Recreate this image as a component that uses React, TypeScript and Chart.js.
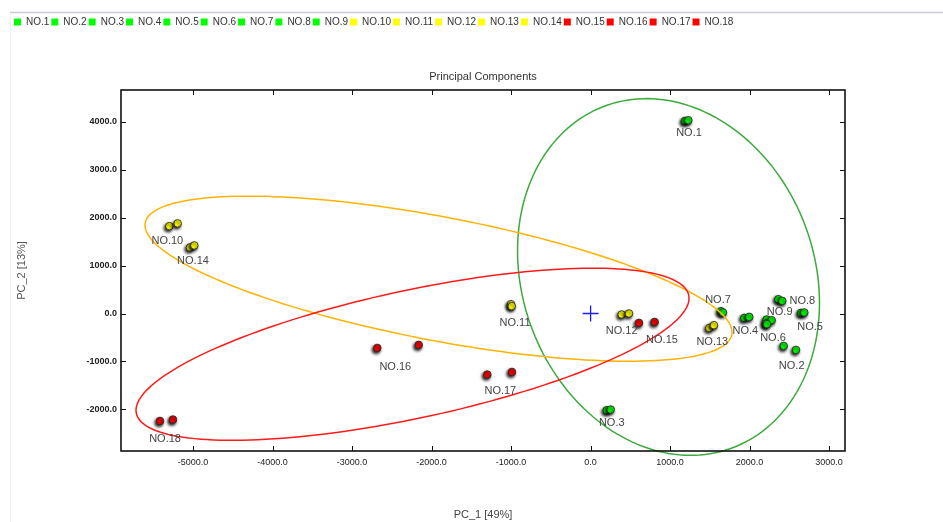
import React, { useEffect, useRef } from 'react';
import { Chart, registerables } from 'chart.js';

Chart.register(...registerables);

// ---------- data ----------
const sampleNames = ['NO.1', 'NO.2', 'NO.3', 'NO.4', 'NO.5', 'NO.6', 'NO.7', 'NO.8', 'NO.9',
  'NO.10', 'NO.11', 'NO.12', 'NO.13', 'NO.14', 'NO.15', 'NO.16', 'NO.17', 'NO.18'];
const sampleGroup = ['G', 'G', 'G', 'G', 'G', 'G', 'G', 'G', 'G',
  'Y', 'Y', 'Y', 'Y', 'Y', 'R', 'R', 'R', 'R'];

// replicate 1 and replicate 2 scores
const pc1Rep1 = [1187, 2429, 203, 1933, 2647, 2206, 1640, 2361, 2215,
  -5299, -1001, 391, 1493, -5039, 609, -2683, -1299, -5416];
const pc2Rep1 = [4020, -677, -2021, -92, 13, -209, 48, 299, -125,
  1824, 194, -21, -301, 1379, -196, -719, -1275, -2244];
const pc1Rep2 = [1229, 2584, 253, 1996, 2688, 2219, 1665, 2411, 2278,
  -5194, -992, 483, 1552, -4985, 806, -2162, -989, -5253];
const pc2Rep2 = [4035, -761, -2006, -71, 21, -224, 21, 263, -140,
  1881, 153, 0, -245, 1421, -176, -656, -1220, -2215];

// origin marker
const originX = 0;
const originY = 0;

// confidence ellipses (data units)
const ellipseCenterX = [980, -1913, -2240];
const ellipseCenterY = [763, 727, -851];
const ellipseSpreadX = [1899, 3692, 3478];
const ellipseSpreadY = [3724, 1724, 1797];
const ellipseCorr = [-0.146, -0.648, 0.651];

// axes
const xMin = -5907;
const xMax = 3200;
const yMin = -2871;
const yMax = 4667;
const xTickValues = [-5000, -4000, -3000, -2000, -1000, 0, 1000, 2000, 3000];
const yTickValues = [-2000, -1000, 0, 1000, 2000, 3000, 4000];

// ---------- styles ----------
const groupFill: Record<string, string> = { G: '#00ff00', Y: '#ffff00', R: '#ff0000' };
const ellipseColors = ['#3caa3c', '#ffb300', '#ff1a1a'];
// label placement offsets in pixels relative to the first replicate
const labelOffsets: [number, number][] = [
  [4, 12], [8, 20], [5, 13], [1, 13], [9, 14], [7, 14], [-3, -11], [24, 2], [13, -8],
  [-2, 15], [4, 19], [0, 16], [3, 14], [3, 14], [23, 17], [18, 19], [13, 16], [5, 18],
];
const FONT = "'Liberation Sans', Arial, sans-serif";

const pagePlugin = {
  id: 'pageFrame',
  beforeDraw(chart: any) {
    const ctx = chart.ctx;
    ctx.save();
    ctx.fillStyle = '#ffffff';
    ctx.fillRect(0, 0, chart.width, chart.height);
    ctx.strokeStyle = '#eef1f4';
    ctx.lineWidth = 1;
    ctx.beginPath();
    ctx.moveTo(10.5, 12);
    ctx.lineTo(10.5, chart.height);
    ctx.stroke();
    ctx.strokeStyle = '#c9ccd2';
    ctx.lineWidth = 1.5;
    ctx.beginPath();
    ctx.moveTo(10, 12.5);
    ctx.lineTo(chart.width, 12.5);
    ctx.stroke();
    ctx.restore();
  },
};

const shadowPlugin = {
  id: 'pointShadow',
  beforeDatasetDraw(chart: any, args: any) {
    if (args.index >= sampleNames.length) return;
    const ctx = chart.ctx;
    ctx.shadowColor = 'rgba(0,0,0,0.9)';
    ctx.shadowBlur = 3;
    ctx.shadowOffsetX = -1.2;
    ctx.shadowOffsetY = 1.8;
  },
  afterDatasetDraw(chart: any) {
    const ctx = chart.ctx;
    ctx.shadowColor = 'rgba(0,0,0,0)';
    ctx.shadowBlur = 0;
    ctx.shadowOffsetX = 0;
    ctx.shadowOffsetY = 0;
  },
};

const overlayPlugin = {
  id: 'overlay',
  afterDatasetsDraw(chart: any) {
    const ctx = chart.ctx;
    const xs = chart.scales.x;
    const ys = chart.scales.y;
    ctx.save();
    for (let e = 0; e < ellipseCenterX.length; e++) {
      const r = ellipseCorr[e];
      const q = Math.sqrt(1 - r * r);
      ctx.beginPath();
      const steps = 180;
      for (let i = 0; i <= steps; i++) {
        const t = (i / steps) * Math.PI * 2;
        const dx = ellipseSpreadX[e] * Math.cos(t);
        const dy = ellipseSpreadY[e] * (r * Math.cos(t) + q * Math.sin(t));
        const px = xs.getPixelForValue(ellipseCenterX[e] + dx);
        const py = ys.getPixelForValue(ellipseCenterY[e] + dy);
        if (i === 0) ctx.moveTo(px, py); else ctx.lineTo(px, py);
      }
      ctx.closePath();
      ctx.strokeStyle = ellipseColors[e];
      ctx.lineWidth = 1.5;
      ctx.stroke();
    }
    ctx.font = `11px ${FONT}`;
    ctx.fillStyle = '#444444';
    ctx.textAlign = 'center';
    ctx.textBaseline = 'middle';
    sampleNames.forEach((name, i) => {
      const px = xs.getPixelForValue(pc1Rep1[i]) + labelOffsets[i][0];
      const py = ys.getPixelForValue(pc2Rep1[i]) + labelOffsets[i][1];
      ctx.fillText(name, px, py);
    });
    ctx.restore();
  },
  afterDraw(chart: any) {
    const ctx = chart.ctx;
    const a = chart.chartArea;
    const xs = chart.scales.x;
    const ys = chart.scales.y;
    ctx.save();
    ctx.strokeStyle = '#111111';
    ctx.lineWidth = 1;
    const tl = 5;
    ctx.beginPath();
    xTickValues.forEach((v) => {
      const px = Math.round(xs.getPixelForValue(v)) + 0.5;
      ctx.moveTo(px, a.bottom); ctx.lineTo(px, a.bottom - tl);
      ctx.moveTo(px, a.top); ctx.lineTo(px, a.top + tl);
    });
    yTickValues.forEach((v) => {
      const py = Math.round(ys.getPixelForValue(v)) + 0.5;
      ctx.moveTo(a.left, py); ctx.lineTo(a.left + tl, py);
      ctx.moveTo(a.right, py); ctx.lineTo(a.right - tl, py);
    });
    ctx.stroke();
    ctx.lineWidth = 1.6;
    ctx.strokeRect(a.left, a.top, a.right - a.left, a.bottom - a.top);
    ctx.restore();
  },
};

export default function App() {
  const canvasRef = useRef<HTMLCanvasElement | null>(null);

  useEffect(() => {
    const canvas = canvasRef.current;
    if (!canvas) return;

    const datasets: any[] = sampleNames.map((name, i) => ({
      label: name,
      data: [
        { x: pc1Rep1[i], y: pc2Rep1[i] },
        { x: pc1Rep2[i], y: pc2Rep2[i] },
      ],
      backgroundColor: groupFill[sampleGroup[i]],
      borderColor: '#2a2a2a',
      borderWidth: 0.9,
      pointRadius: 3.8,
      pointHoverRadius: 3.8,
    }));
    datasets.push({
      label: 'origin',
      data: [{ x: originX, y: originY }],
      pointStyle: 'cross',
      pointRadius: 8,
      pointHoverRadius: 8,
      borderColor: '#1c1cff',
      backgroundColor: '#1c1cff',
      borderWidth: 1.3,
    });

    const chart = new Chart(canvas, {
      type: 'scatter',
      data: { datasets },
      options: {
        animation: false,
        responsive: false,
        devicePixelRatio: 1,
        events: [],
        layout: { padding: { top: 15, left: 12, right: 98, bottom: 0 } },
        plugins: {
          tooltip: { enabled: false },
          title: { display: false },
          legend: {
            display: true,
            position: 'top',
            align: 'start',
            labels: {
              boxWidth: 7,
              boxHeight: 7,
              padding: 2,
              color: '#333333',
              font: { size: 10, family: FONT },
              filter: (item: any) => item.datasetIndex < sampleNames.length,
              generateLabels: (c: any) =>
                Chart.defaults.plugins.legend.labels.generateLabels(c).map((it: any) => ({
                  ...it,
                  strokeStyle: it.fillStyle,
                  lineWidth: 0,
                })),
            },
          },
        },
        scales: {
          x: {
            type: 'linear',
            position: 'bottom',
            min: xMin,
            max: xMax,
            afterBuildTicks: (s: any) => { s.ticks = xTickValues.map((value) => ({ value })); },
            afterFit: (s: any) => { s.height = 71; },
            grid: { display: false, drawTicks: false },
            border: { display: false },
            ticks: {
              padding: 6,
              color: '#222222',
              font: { size: 9, family: FONT },
              maxRotation: 0,
              callback: (v: any) => Number(v).toFixed(1),
            },
            title: {
              display: true,
              text: 'PC_1 [49%]',
              color: '#444444',
              font: { size: 11, family: FONT },
              padding: { top: 0, bottom: 0 },
            },
          },
          x2: {
            type: 'linear',
            position: 'top',
            display: true,
            min: xMin,
            max: xMax,
            afterFit: (s: any) => { s.height = 53; },
            grid: { display: false, drawTicks: false },
            border: { display: false },
            ticks: { display: false },
            title: {
              display: true,
              text: 'Principal Components',
              color: '#333333',
              font: { size: 11, family: FONT },
              padding: { top: 33, bottom: 0 },
            },
          },
          y: {
            type: 'linear',
            position: 'left',
            min: yMin,
            max: yMax,
            afterBuildTicks: (s: any) => { s.ticks = yTickValues.map((value) => ({ value })); },
            afterFit: (s: any) => { s.width = 109; },
            grid: { display: false, drawTicks: false },
            border: { display: false },
            ticks: {
              padding: 4,
              color: '#222222',
              font: { size: 9, family: FONT, weight: 'bold' },
              callback: (v: any) => Number(v).toFixed(1),
            },
            title: {
              display: true,
              text: 'PC_2 [13%]',
              color: '#555555',
              font: { size: 11, family: FONT },
              padding: { top: 3, bottom: 0 },
            },
          },
        },
      },
      plugins: [pagePlugin, shadowPlugin, overlayPlugin],
    });

    return () => chart.destroy();
  }, []);

  return (
    <div style={{ position: 'absolute', left: 0, top: 0, width: 943, height: 522, background: '#fff' }}>
      <canvas ref={canvasRef} width={943} height={522} style={{ display: 'block', width: 943, height: 522 }} />
    </div>
  );
}
